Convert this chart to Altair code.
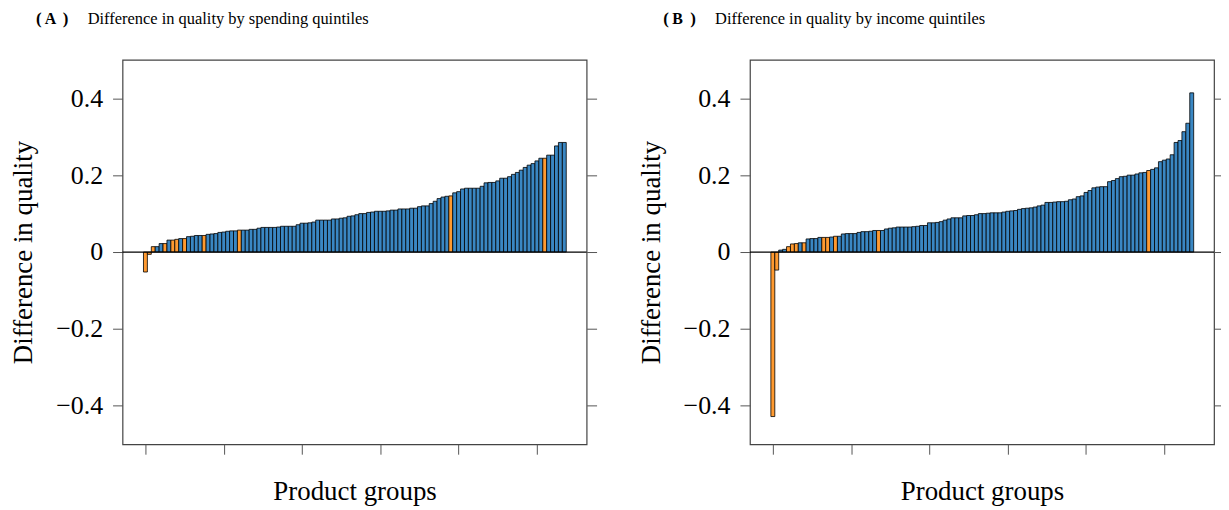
import altair as alt
import pandas as pd

# ---------------- data ----------------
spend_values = [
    -0.052, -0.006, 0.014, 0.014, 0.022, 0.022, 0.031, 0.031, 0.033, 0.035,
    0.035, 0.040, 0.041, 0.043, 0.043, 0.043, 0.046, 0.047, 0.048, 0.051,
    0.052, 0.054, 0.055, 0.055, 0.057, 0.057, 0.057, 0.059, 0.059, 0.062,
    0.064, 0.064, 0.064, 0.064, 0.065, 0.067, 0.067, 0.067, 0.067, 0.071,
    0.075, 0.075, 0.076, 0.078, 0.083, 0.083, 0.083, 0.083, 0.086, 0.086,
    0.088, 0.089, 0.093, 0.094, 0.097, 0.100, 0.100, 0.103, 0.104, 0.106,
    0.106, 0.106, 0.107, 0.109, 0.109, 0.112, 0.112, 0.112, 0.114, 0.114,
    0.118, 0.120, 0.120, 0.126, 0.132, 0.139, 0.143, 0.145, 0.146, 0.154,
    0.157, 0.164, 0.166, 0.166, 0.166, 0.166, 0.171, 0.180, 0.181, 0.181,
    0.185, 0.192, 0.192, 0.196, 0.202, 0.207, 0.213, 0.220, 0.226, 0.230,
    0.237, 0.244, 0.244, 0.252, 0.252, 0.276, 0.285, 0.285,
]
spend_orange = [0, 1, 2, 5, 7, 8, 10, 15, 24, 78, 102]

income_values = [
    -0.428, -0.047, 0.005, 0.007, 0.014, 0.021, 0.022, 0.024, 0.024, 0.034,
    0.035, 0.035, 0.038, 0.038, 0.038, 0.039, 0.041, 0.041, 0.047, 0.048,
    0.048, 0.048, 0.051, 0.053, 0.053, 0.054, 0.056, 0.056, 0.056, 0.060,
    0.062, 0.063, 0.065, 0.065, 0.065, 0.065, 0.066, 0.067, 0.069, 0.069,
    0.076, 0.076, 0.077, 0.079, 0.083, 0.086, 0.089, 0.089, 0.089, 0.094,
    0.095, 0.095, 0.097, 0.100, 0.100, 0.101, 0.102, 0.102, 0.102, 0.104,
    0.106, 0.107, 0.108, 0.111, 0.113, 0.114, 0.115, 0.117, 0.120, 0.122,
    0.129, 0.129, 0.130, 0.131, 0.131, 0.132, 0.136, 0.138, 0.144, 0.146,
    0.155, 0.160, 0.167, 0.169, 0.170, 0.170, 0.183, 0.186, 0.191, 0.196,
    0.197, 0.200, 0.200, 0.203, 0.206, 0.207, 0.212, 0.215, 0.219, 0.235,
    0.239, 0.242, 0.253, 0.285, 0.290, 0.313, 0.335, 0.414,
]
income_orange = [0, 1, 4, 5, 6, 8, 13, 14, 16, 27, 96]

panel_letters = ["A", "B"]
panel_titles = [
    "Difference in quality by spending quintiles",
    "Difference in quality by income quintiles",
]
y_ticks = [-0.4, -0.2, 0, 0.2, 0.4]
x_ticks = [0, 20, 40, 60, 80, 100]

# ---------------- styling ----------------
FONT = "Liberation Serif"
BLUE = "#3a87c3"
ORANGE = "#ff9a30"
TICK = "#555555"

x_scale = alt.Scale(domain=[-5.85, 112.7], nice=False, zero=False)
y_scale = alt.Scale(domain=[-0.5, 0.5], nice=False, zero=False)
label_expr = "datum.value == 0 ? '0' : replace(format(datum.value, '.1f'), '-', '\u2212')"


def panel(values, orange, letter, title):
    df = pd.DataFrame({
        "idx": list(range(len(values))),
        "value": values,
        "group": ["orange" if i in orange else "blue" for i in range(len(values))],
    })
    bars = alt.Chart(df).transform_calculate(
        x0="datum.idx - 0.5", x1="datum.idx + 0.5"
    ).mark_bar(stroke="black", strokeWidth=0.8).encode(
        x=alt.X("x0:Q", scale=x_scale, axis=alt.Axis(
            values=x_ticks, labels=False, tickSize=10, tickColor=TICK,
            domain=False, grid=False, title="Product groups",
            titleFont=FONT, titleFontSize=27, titleFontWeight="normal",
            titleColor="black", titlePadding=24)),
        x2="x1:Q",
        y=alt.Y("value:Q", scale=y_scale, axis=alt.Axis(
            orient="left", values=y_ticks, labelExpr=label_expr,
            tickSize=10, tickColor=TICK, domain=False, grid=False,
            labelFont=FONT, labelFontSize=26, labelColor="black", labelPadding=10,
            title="Difference in quality", titleFont=FONT, titleFontSize=27,
            titleFontWeight="normal", titleColor="black", titlePadding=18)),
        y2=alt.datum(0),
        color=alt.Color("group:N", scale=alt.Scale(domain=["blue", "orange"],
                                                  range=[BLUE, ORANGE]), legend=None),
    )
    zero = alt.Chart(pd.DataFrame({"zero": [0]})).mark_rule(
        color="black", strokeWidth=1.3
    ).encode(
        y=alt.Y("zero:Q", scale=y_scale, axis=alt.Axis(
            orient="right", values=y_ticks, labels=False, tickSize=10,
            tickColor=TICK, domain=False, grid=False, title=None)),
    )
    one = pd.DataFrame({"t": [letter]})
    lp = alt.Chart(one).mark_text(font=FONT, fontSize=17, fontWeight="bold",
                                  align="left", baseline="alphabetic").encode(
        x=alt.value(-87), y=alt.value(-36), text=alt.value("("))
    la = alt.Chart(one).mark_text(font=FONT, fontSize=16, fontWeight="bold",
                                  align="left", baseline="alphabetic").encode(
        x=alt.value(-78), y=alt.value(-36), text="t:N")
    rp = alt.Chart(one).mark_text(font=FONT, fontSize=17, fontWeight="bold",
                                  align="left", baseline="alphabetic").encode(
        x=alt.value(-60), y=alt.value(-36), text=alt.value(")"))
    tt = alt.Chart(pd.DataFrame({"t": [title]})).mark_text(
        font=FONT, fontSize=16.5, align="left", baseline="alphabetic", color="black"
    ).encode(x=alt.value(-35), y=alt.value(-36), text="t:N")
    return alt.layer(bars, zero, lp, la, rp, tt).resolve_axis(y="independent").properties(
        width=466, height=386)


left = panel(spend_values, spend_orange, panel_letters[0], panel_titles[0])
right = panel(income_values, income_orange, panel_letters[1], panel_titles[1])

chart = alt.hconcat(left, right, spacing=38).properties(
    padding={"left": 1, "top": 0, "right": -5, "bottom": 0}
).configure_view(stroke="#444444", strokeWidth=1.2)

chart.save("out.html", embed_options={"renderer": "svg", "actions": False})
